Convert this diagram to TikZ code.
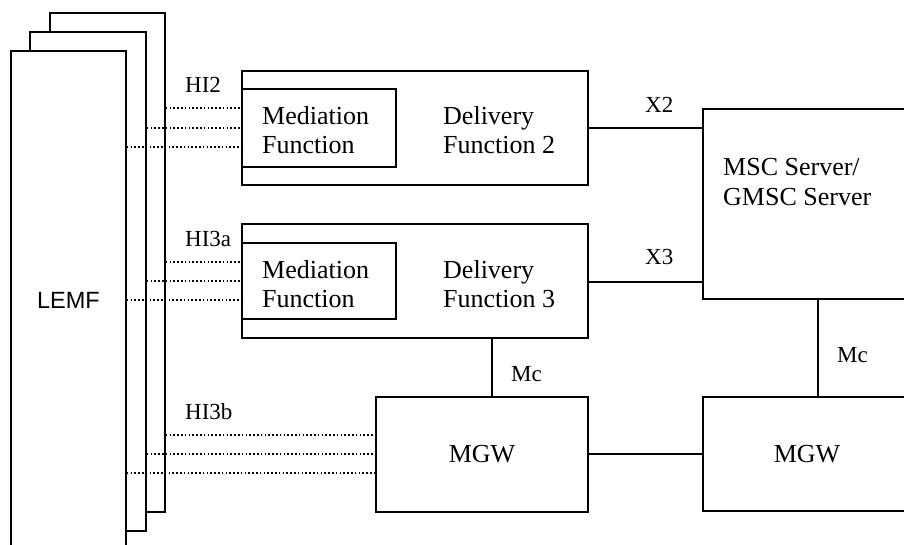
\documentclass[tikz,border=0pt]{standalone}
\usepackage{fontspec}
\setmainfont{Liberation Serif}
\newfontfamily\arialfont{Liberation Sans}
\begin{document}
\begin{tikzpicture}[x=1pt,y=-1pt,
  box/.style={draw, line width=1.4pt, fill=white, rectangle, inner sep=0pt},
  conn/.style={line width=1.4pt},
  dotline/.style={line width=1.9pt, dash pattern=on 1.6pt off 2.2pt},
  maintext/.style={inner sep=0pt, align=left, anchor=west, font=\fontsize{26}{29.5}\selectfont},
  lbl/.style={inner sep=0pt, anchor=base west, font=\fontsize{23}{27}\selectfont}]
\useasboundingbox (0,0) rectangle (904,545);
\clip (0,0) rectangle (904,545);
% LEMF stack
\node[box, minimum width=115pt, minimum height=499pt] (lemf3) at (107.5,262.5) {};
\node[box, minimum width=116pt, minimum height=499pt] (lemf2) at (88,281.5) {};
\node[box, minimum width=115pt, minimum height=499pt, font=\arialfont\fontsize{23.5}{28}\selectfont] (lemf1) at (68.5,300.5) {LEMF};
% delivery functions
\node[box, minimum width=346pt, minimum height=114pt] (df2) at (415,128) {};
\node[box, minimum width=154pt, minimum height=78pt] (mf2) at (319,128) {};
\node[box, minimum width=346pt, minimum height=114pt] (df3) at (415,281) {};
\node[box, minimum width=154pt, minimum height=76pt] (mf3) at (319,281) {};
\node[maintext] (mf2t) at (262,130) {Mediation\\Function};
\node[maintext] (df2t) at (443,130) {Delivery\\Function 2};
\node[maintext] (mf3t) at (262,284) {Mediation\\Function};
\node[maintext] (df3t) at (443,284) {Delivery\\Function 3};
% MSC server
\node[box, minimum width=208pt, minimum height=190pt] (msc) at (807,204) {};
\node[maintext, font=\fontsize{26}{30}\selectfont] (msct) at (723,182) {MSC Server/\\GMSC Server};
% MGWs
\node[box, minimum width=212pt, minimum height=115pt, font=\fontsize{26}{29.5}\selectfont] (mgw1) at (482,454.5) {MGW};
\node[box, minimum width=208pt, minimum height=114pt, font=\fontsize{26}{29.5}\selectfont] (mgw2) at (807,454) {MGW};
% coordinates for connector heights
\coordinate (y2a) at (0,108);
\coordinate (y2b) at (0,128);
\coordinate (y2c) at (0,147);
\coordinate (y3a) at (0,262);
\coordinate (y3b) at (0,281);
\coordinate (y3c) at (0,300);
\coordinate (y4a) at (0,435);
\coordinate (y4b) at (0,454);
\coordinate (y4c) at (0,473);
\coordinate (x3) at (0,282);
\coordinate (mcl) at (492,0);
\coordinate (mcr) at (818,0);
% solid connectors
\draw[conn] (df2.east |- y2b) -- (msc.west |- y2b);
\draw[conn] (df3.east |- x3) -- (msc.west |- x3);
\draw[conn] (df3.south -| mcl) -- (mgw1.north -| mcl);
\draw[conn] (msc.south -| mcr) -- (mgw2.north -| mcr);
\draw[conn] (mgw1.east |- y4b) -- (mgw2.west |- y4b);
% dotted handover interfaces
\draw[dotline] (lemf3.east |- y2a) -- (df2.west |- y2a);
\draw[dotline] (lemf2.east |- y2b) -- (df2.west |- y2b);
\draw[dotline] (lemf1.east |- y2c) -- (df2.west |- y2c);
\draw[dotline] (lemf3.east |- y3a) -- (df3.west |- y3a);
\draw[dotline] (lemf2.east |- y3b) -- (df3.west |- y3b);
\draw[dotline] (lemf1.east |- y3c) -- (df3.west |- y3c);
\draw[dotline] (lemf3.east |- y4a) -- (mgw1.west |- y4a);
\draw[dotline] (lemf2.east |- y4b) -- (mgw1.west |- y4b);
\draw[dotline] (lemf1.east |- y4c) -- (mgw1.west |- y4c);
% labels
\node[lbl] (hi2) at (185,93) {HI2};
\node[lbl] (hi3a) at (185,247) {HI3a};
\node[lbl] (hi3b) at (185,419) {HI3b};
\node[lbl] (x2l) at (645,113) {X2};
\node[lbl] (x3l) at (645,265) {X3};
\node[lbl] (mc1) at (511,381) {Mc};
\node[lbl] (mc2) at (837,362) {Mc};
\end{tikzpicture}
\end{document}
